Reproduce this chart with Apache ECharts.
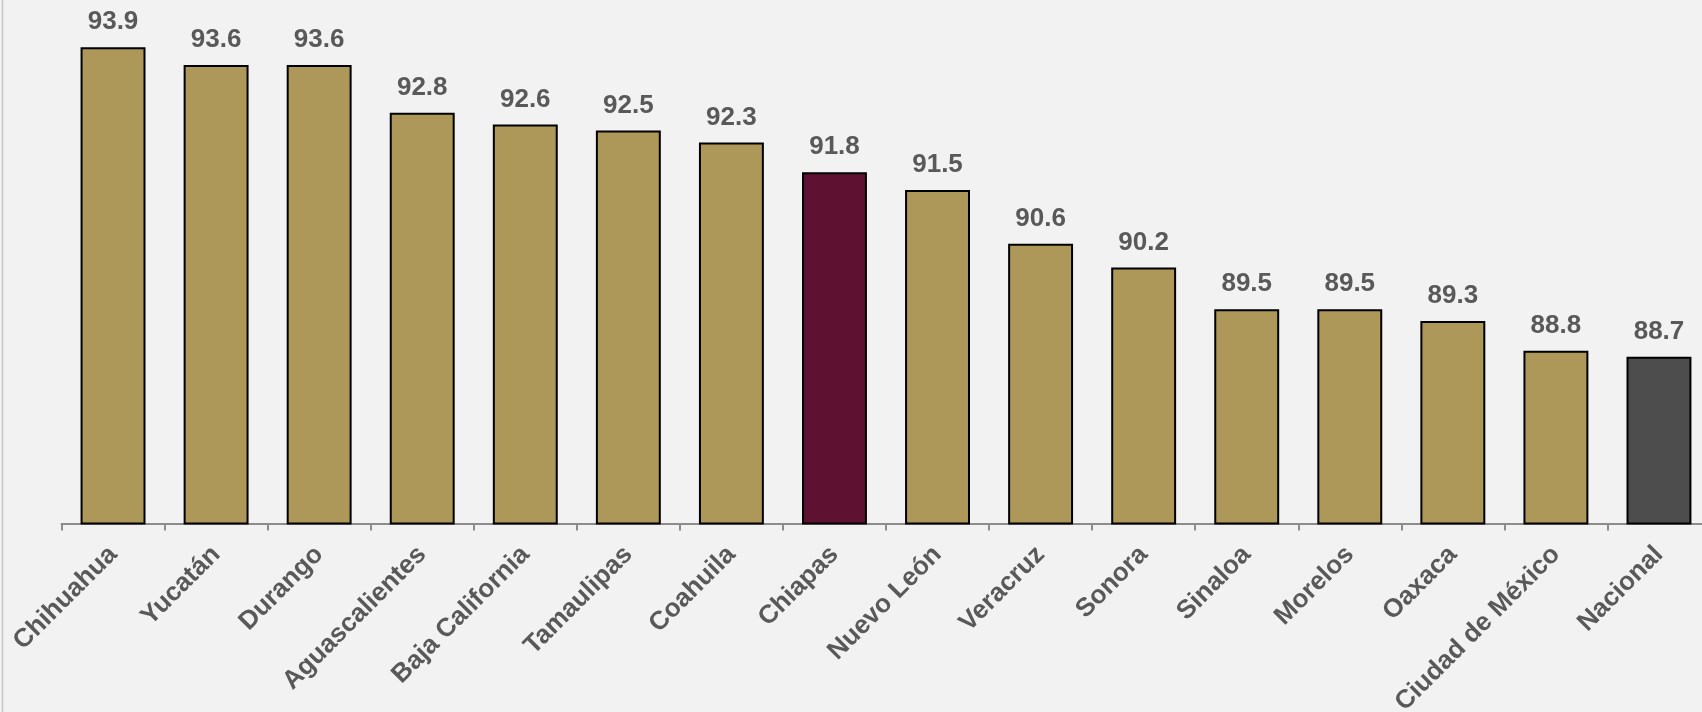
<!DOCTYPE html>
<html>
<head>
<meta charset="utf-8">
<script src="https://cdn.jsdelivr.net/npm/echarts@6/dist/echarts.min.js"></script>
<style>
html,body{margin:0;padding:0;background:#f2f2f2;}
#c{width:1702px;height:712px;}
</style>
</head>
<body>
<div id="c"></div>
<script>
const categories = ["Chihuahua","Yucatán","Durango","Aguascalientes","Baja California","Tamaulipas","Coahuila","Chiapas","Nuevo León","Veracruz","Sonora","Sinaloa","Morelos","Oaxaca","Ciudad de México","Nacional"];
const values = [93.9,93.6,93.6,92.8,92.6,92.5,92.3,91.8,91.5,90.6,90.2,89.5,89.5,89.3,88.8,88.7];
const highlight = {"Chiapas":"#5f1131","Nacional":"#4d4d4d"};
const baseColor = "#ad9759";

const chart = echarts.init(document.getElementById('c'));
chart.setOption({
  backgroundColor: '#f2f2f2',
  animation: false,
  graphic: [{type:'line', shape:{x1:2.5,y1:0,x2:2.5,y2:712}, style:{stroke:'#c6c6c6',lineWidth:1.5}}],
  grid: {left: 61.5, top: 11.5, width: 1649, height: 512, containLabel: false, outerBoundsMode: 'none'},
  xAxis: {
    type: 'category',
    data: categories,
    axisLine: {lineStyle: {color: '#8c8c8c', width: 2}},
    axisTick: {show: true, length: 7, lineStyle: {color: '#8c8c8c', width: 2}},
    axisLabel: {rotate: 45, margin: 27, color: '#595959', fontFamily: 'Liberation Sans', fontWeight: 'bold', fontSize: 26, interval: 0, hideOverlap: false}
  },
  yAxis: {
    type: 'value', min: 85.9, max: 94.5, show: false
  },
  series: [{
    type: 'bar',
    barCategoryGap: '37%',
    data: values.map((v, i) => ({value: v, itemStyle: {color: highlight[categories[i]] || baseColor}})),
    itemStyle: {borderColor: '#000', borderWidth: 2},
    label: {show: true, position: 'top', distance: 12, color: '#595959', fontFamily: 'Liberation Sans', fontWeight: 'bold', fontSize: 26, formatter: p => p.value.toFixed(1)}
  }]
});
</script>
</body>
</html>
